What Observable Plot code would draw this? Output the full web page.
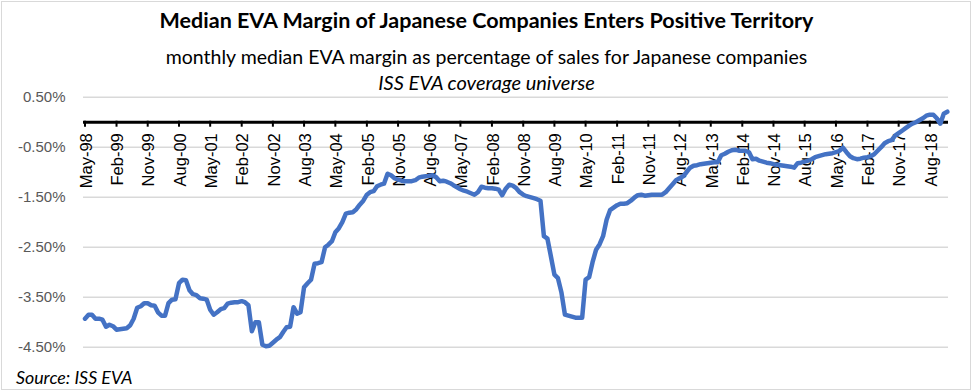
<!DOCTYPE html>
<html><head><meta charset="utf-8">
<script src="https://cdn.jsdelivr.net/npm/d3@7"></script>
<script src="https://cdn.jsdelivr.net/npm/@observablehq/plot@0.6"></script>
<style>
body{margin:0;background:#fff;}
#wrap{position:relative;width:973px;height:392px;overflow:hidden;font-family:Lato,"Open Sans",sans-serif;background:#fff;}
#frame{position:absolute;left:1px;top:1px;width:970px;height:389px;border:1px solid #d9d9d9;box-sizing:border-box;}
.t{position:absolute;left:0;width:973px;text-align:center;color:#000;white-space:nowrap;}
#title{top:10px;font-weight:bold;font-size:21.5px;line-height:21.5px;}
#sub{top:47px;font-size:19.5px;line-height:19.5px;}
#sub2{top:72px;font-size:20px;line-height:20px;font-style:italic;}
#src{position:absolute;left:16px;top:369px;font-size:17.8px;line-height:17.8px;font-style:italic;color:#000;}
#chart{position:absolute;left:0;top:0;}
</style>
</head><body>
<div id="wrap">
  <div id="frame"></div>
  <div id="chart"></div>
  <div class="t" id="title">Median EVA Margin of Japanese Companies Enters Positive Territory</div>
  <div class="t" id="sub">monthly median EVA margin as percentage of sales for Japanese companies</div>
  <div class="t" id="sub2">ISS EVA coverage universe</div>
  <div id="src">Source: ISS EVA</div>
</div>
<script>
const startMonth = "May-98";
const evaMargin = [
 -3.93,-3.85,-3.85,-3.93,-3.93,-3.95,-4.09,-4.05,-4.08,-4.15,
 -4.14,-4.13,-4.12,-4.06,-3.93,-3.71,-3.68,-3.62,-3.62,-3.66,
 -3.67,-3.81,-3.87,-3.87,-3.62,-3.55,-3.54,-3.22,-3.15,-3.16,
 -3.36,-3.44,-3.46,-3.52,-3.53,-3.55,-3.75,-3.85,-3.80,-3.74,
 -3.72,-3.63,-3.61,-3.60,-3.60,-3.58,-3.60,-3.66,-4.18,-4.00,
 -4.00,-4.45,-4.48,-4.47,-4.41,-4.35,-4.30,-4.19,-4.10,-4.09,
 -3.70,-3.83,-3.80,-3.30,-3.22,-3.15,-2.83,-2.82,-2.80,-2.50,
 -2.45,-2.38,-2.20,-2.12,-2.00,-1.83,-1.81,-1.80,-1.74,-1.65,
 -1.57,-1.45,-1.40,-1.38,-1.28,-1.25,-1.23,-1.03,-1.06,-1.12,
 -1.15,-1.17,-1.18,-1.18,-1.18,-1.16,-1.11,-1.09,-1.08,-1.07,
 -1.06,-1.10,-1.18,-1.17,-1.19,-1.22,-1.26,-1.30,-1.34,-1.37,
 -1.39,-1.42,-1.45,-1.40,-1.29,-1.31,-1.32,-1.32,-1.33,-1.35,
 -1.46,-1.33,-1.25,-1.27,-1.32,-1.40,-1.45,-1.48,-1.50,-1.52,
 -1.54,-1.57,-2.28,-2.33,-2.68,-3.05,-3.12,-3.40,-3.85,-3.87,
 -3.89,-3.91,-3.91,-3.91,-3.15,-3.10,-2.80,-2.55,-2.44,-2.28,
 -1.95,-1.76,-1.71,-1.66,-1.63,-1.63,-1.62,-1.57,-1.51,-1.46,
 -1.45,-1.47,-1.46,-1.45,-1.45,-1.45,-1.45,-1.40,-1.32,-1.24,
 -1.16,-1.12,-1.08,-1.00,-0.91,-0.87,-0.86,-0.84,-0.83,-0.82,
 -0.81,-0.80,-0.80,-0.66,-0.63,-0.59,-0.56,-0.55,-0.57,-0.57,
 -0.57,-0.60,-0.74,-0.73,-0.77,-0.79,-0.81,-0.82,-0.84,-0.85,
 -0.86,-0.87,-0.88,-0.89,-0.91,-0.82,-0.81,-0.79,-0.77,-0.74,
 -0.70,-0.68,-0.66,-0.64,-0.63,-0.62,-0.60,-0.57,-0.51,-0.60,
 -0.68,-0.72,-0.74,-0.73,-0.71,-0.70,-0.68,-0.64,-0.57,-0.50,
 -0.42,-0.38,-0.36,-0.27,-0.22,-0.17,-0.12,-0.07,-0.03,0.00,
 0.04,0.08,0.13,0.15,0.15,0.08,-0.03,0.17,0.21
];
const tickLabels = ["May-98","Feb-99","Nov-99","Aug-00","May-01","Feb-02","Nov-02","Aug-03","May-04","Feb-05","Nov-05","Aug-06","May-07","Feb-08","Nov-08","Aug-09","May-10","Feb-11","Nov-11","Aug-12","May-13","Feb-14","Nov-14","Aug-15","May-16","Feb-17","Nov-17","Aug-18"];
const yTicks = [0.5,-0.5,-1.5,-2.5,-3.5,-4.5];

const parse = d3.utcParse("%b-%y");
const start = parse(startMonth);
const data = evaMargin.map((v,i)=>({date:d3.utcMonth.offset(start,i), value:v}));
const ticks = tickLabels.map(l=>({date:parse(l), label:l}));

const chart = Plot.plot({
  width:973, height:392,
  marginLeft:83, marginRight:25, marginTop:96.7, marginBottom:45.3,
  style:{background:"transparent", overflow:"visible", fontFamily:"'Liberation Sans', Arial, sans-serif"},
  x:{type:"utc", domain:[data[0].date, data[data.length-1].date], range:[84.5, 946.8], axis:null},
  y:{domain:[-4.5,0.5], axis:null},
  marks:[
    Plot.ruleY(yTicks,{y:d=>d, stroke:"#d9d9d9", strokeWidth:1.5}),
    Plot.text(yTicks,{y:d=>d, text:d=>d.toFixed(2)+"%", frameAnchor:"left", textAnchor:"end", dx:-18, fill:"#595959", fontSize:15}),
    Plot.ruleY([0],{stroke:"#000", strokeWidth:3}),
    Plot.ruleX(ticks,{x:"date", y1:0.02, y2:-0.1, stroke:"#000", strokeWidth:2}),
    Plot.text(ticks,{x:"date", y:0, text:"label", rotate:-90, textAnchor:"end", dy:11, dx:1.5, fill:"#000", fontSize:16.5}),
    Plot.line(data,{x:"date", y:"value", stroke:"#4472C4", strokeWidth:4.5, strokeLinejoin:"round", strokeLinecap:"round"})
  ]
});
document.getElementById("chart").appendChild(chart);
</script>
</body></html>
